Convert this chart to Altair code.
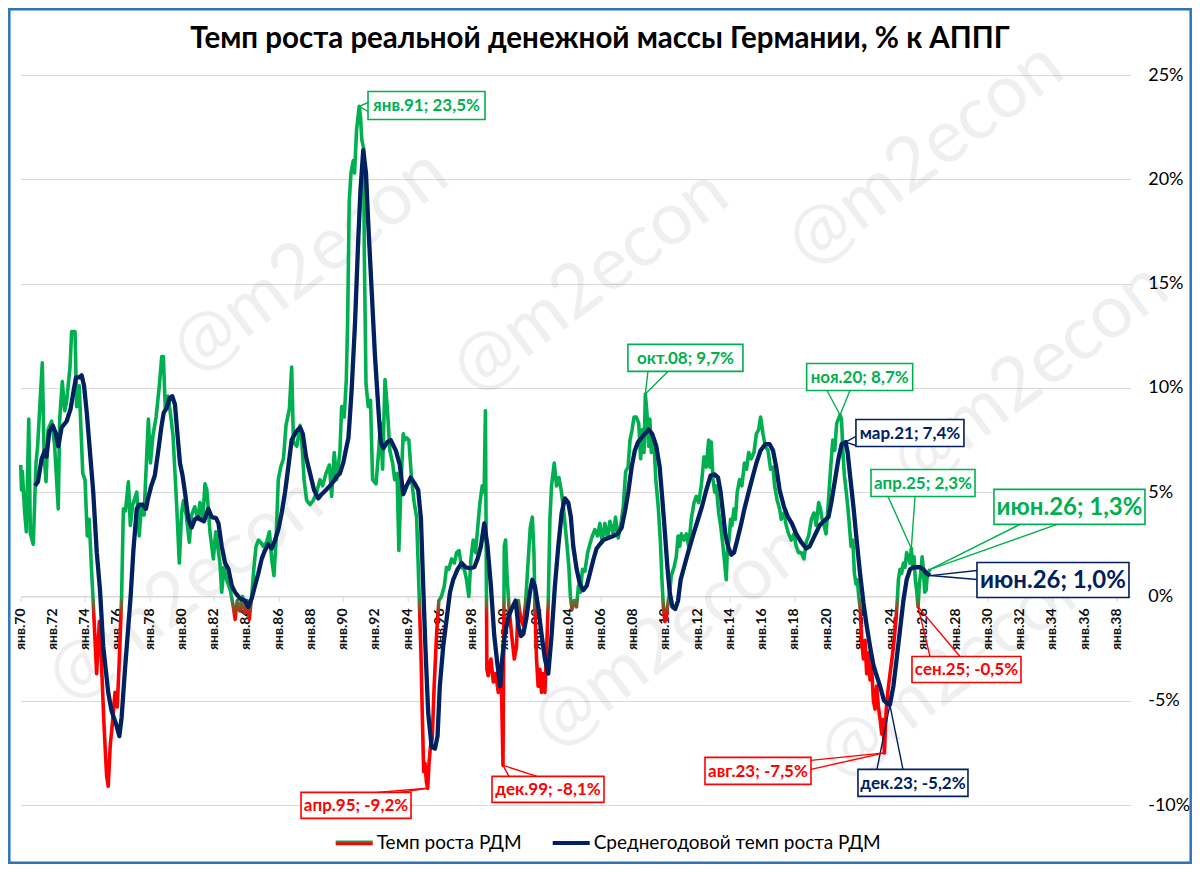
import altair as alt
import pandas as pd

# ---------------- data ----------------
# Monthly real money growth, % y/y (decimal year, value)
rdm_t = [1970.00, 1970.05, 1970.10, 1970.25, 1970.35, 1970.50, 1970.60, 1970.78, 1970.95, 1971.05,
         1971.20, 1971.34, 1971.45, 1971.57, 1971.70, 1971.92, 1972.10, 1972.33, 1972.42, 1972.58,
         1972.73, 1972.84, 1973.06, 1973.16, 1973.37, 1973.47, 1973.63, 1973.85, 1973.99, 1974.13,
         1974.25, 1974.40, 1974.50, 1974.71, 1974.88, 1975.00, 1975.17, 1975.33, 1975.43, 1975.55,
         1975.71, 1975.85, 1975.99, 1976.12, 1976.26, 1976.37, 1976.50, 1976.68, 1976.80, 1976.95,
         1977.20, 1977.35, 1977.50, 1977.65, 1977.92, 1978.05, 1978.20, 1978.40, 1978.60, 1978.75,
         1978.85, 1978.97, 1979.15, 1979.30, 1979.45, 1979.68, 1979.84, 1979.98, 1980.10, 1980.27,
         1980.46, 1980.60, 1980.80, 1981.00, 1981.12, 1981.30, 1981.43, 1981.55, 1981.74, 1981.95,
         1982.10, 1982.36, 1982.47, 1982.60, 1982.78, 1983.00, 1983.19, 1983.30, 1983.43, 1983.60,
         1983.76, 1983.90, 1984.05, 1984.18, 1984.33, 1984.47, 1984.60, 1984.75, 1984.89, 1985.05,
         1985.26, 1985.43, 1985.57, 1985.71, 1985.84, 1985.98, 1986.13, 1986.30, 1986.46, 1986.67,
         1986.81, 1986.92, 1987.13, 1987.33, 1987.44, 1987.58, 1987.74, 1987.95, 1988.15, 1988.36,
         1988.57, 1988.73, 1988.94, 1989.15, 1989.29, 1989.45, 1989.60, 1989.80, 1989.91, 1990.07,
         1990.20, 1990.28, 1990.38, 1990.49, 1990.63, 1990.71, 1990.84, 1991.00, 1991.08, 1991.16,
         1991.27, 1991.32, 1991.42, 1991.56, 1991.70, 1991.83, 1992.04, 1992.18, 1992.33, 1992.45,
         1992.60, 1992.74, 1992.90, 1993.07, 1993.20, 1993.35, 1993.46, 1993.59, 1993.73, 1993.83,
         1993.94, 1994.08, 1994.25, 1994.41, 1994.56, 1994.70, 1994.83, 1994.92, 1995.00, 1995.08,
         1995.17, 1995.25, 1995.33, 1995.42, 1995.53, 1995.65, 1995.80, 1995.94, 1996.10, 1996.28,
         1996.42, 1996.56, 1996.73, 1996.90, 1997.04, 1997.19, 1997.35, 1997.52, 1997.66, 1997.80,
         1997.93, 1998.07, 1998.22, 1998.34, 1998.49, 1998.63, 1998.75, 1998.83, 1998.92, 1999.00,
         1999.17, 1999.32, 1999.46, 1999.63, 1999.75, 1999.83, 1999.92, 2000.00, 2000.08, 2000.17,
         2000.29, 2000.45, 2000.62, 2000.76, 2000.87, 2001.03, 2001.18, 2001.32, 2001.49, 2001.61,
         2001.74, 2001.84, 2001.90, 2002.00, 2002.10, 2002.21, 2002.31, 2002.42, 2002.52, 2002.62,
         2002.73, 2002.83, 2002.93, 2003.10, 2003.24, 2003.39, 2003.55, 2003.70, 2003.85, 2004.00,
         2004.10, 2004.20, 2004.35, 2004.48, 2004.60, 2004.72, 2004.85, 2005.00, 2005.17, 2005.31,
         2005.46, 2005.62, 2005.79, 2005.93, 2006.08, 2006.24, 2006.41, 2006.55, 2006.76, 2006.90,
         2007.07, 2007.24, 2007.38, 2007.53, 2007.68, 2007.80, 2007.93, 2008.05, 2008.19, 2008.34,
         2008.46, 2008.57, 2008.67, 2008.75, 2008.85, 2008.95, 2009.03, 2009.12, 2009.28, 2009.40,
         2009.55, 2009.68, 2009.78, 2009.87, 2009.96, 2010.05, 2010.12, 2010.26, 2010.36, 2010.53,
         2010.67, 2010.78, 2010.88, 2010.98, 2011.15, 2011.29, 2011.44, 2011.60, 2011.77, 2011.91,
         2012.06, 2012.22, 2012.39, 2012.53, 2012.68, 2012.76, 2012.84, 2012.95, 2013.05, 2013.15,
         2013.30, 2013.42, 2013.57, 2013.67, 2013.77, 2013.83, 2013.94, 2014.04, 2014.12, 2014.25,
         2014.33, 2014.45, 2014.60, 2014.74, 2014.90, 2015.03, 2015.16, 2015.32, 2015.49, 2015.64,
         2015.78, 2015.90, 2016.05, 2016.19, 2016.36, 2016.52, 2016.67, 2016.77, 2016.93, 2017.08,
         2017.18, 2017.35, 2017.49, 2017.64, 2017.80, 2017.97, 2018.11, 2018.26, 2018.42, 2018.59,
         2018.73, 2018.88, 2019.05, 2019.21, 2019.35, 2019.50, 2019.62, 2019.69, 2019.84, 2019.96,
         2020.11, 2020.25, 2020.38, 2020.50, 2020.62, 2020.83, 2020.92, 2021.00, 2021.10, 2021.20,
         2021.31, 2021.41, 2021.51, 2021.62, 2021.72, 2021.82, 2021.90, 2021.99, 2022.07, 2022.17,
         2022.28, 2022.38, 2022.48, 2022.59, 2022.69, 2022.79, 2022.90, 2023.00, 2023.10, 2023.21,
         2023.30, 2023.42, 2023.50, 2023.58, 2023.68, 2023.79, 2023.93, 2024.05, 2024.18, 2024.30,
         2024.38, 2024.45, 2024.55, 2024.65, 2024.76, 2024.86, 2024.96, 2025.08, 2025.17, 2025.25,
         2025.33, 2025.42, 2025.50, 2025.58, 2025.67, 2025.75, 2025.83, 2025.92, 2026.00, 2026.08,
         2026.17, 2026.25, 2026.33, 2026.42]
rdm_v = [6.3, 5.1, 6.0, 4.0, 3.1, 8.5, 3.0, 2.5, 6.4, 7.2,
         9.3, 11.2, 6.8, 5.5, 8.0, 8.4, 7.3, 4.2, 8.5, 10.3,
         8.9, 9.3, 11.0, 12.7, 12.7, 9.1, 10.1, 5.9, 5.6, 2.9,
         3.7, 1.2, -0.3, -3.7, -1.2, -3.0, -6.2, -8.6, -9.1, -7.2,
         -5.9, -4.6, -5.3, -3.0, 0.0, 4.2, 4.1, 5.5, 3.4, 4.4,
         5.0, 2.9, 4.4, 3.9, 8.5, 6.4, 7.7, 8.6, 10.1, 11.5,
         11.5, 9.0, 9.6, 8.7, 7.7, 4.3, 1.6, 4.0, 4.6, 3.9,
         2.6, 3.9, 4.3, 3.7, 4.5, 3.7, 5.4, 5.1, 3.1, 1.8,
         3.1, 1.6, 0.2, 1.4, 0.8, 0.3, -0.5, -1.1, -0.2, -0.7,
         0.0, -0.8, -0.2, -1.1, 0.0, 1.4, 2.4, 2.7, 2.6, 2.4,
         2.6, 3.1, 1.8, 1.0, 2.7, 5.6, 6.2, 6.6, 8.2, 9.0,
         11.0, 7.4, 7.2, 8.2, 7.4, 5.6, 4.6, 4.4, 4.6, 5.0,
         5.6, 5.3, 5.9, 6.3, 4.8, 6.9, 5.6, 6.9, 9.1, 8.6,
         10.4, 13.1, 18.9, 20.3, 20.9, 20.3, 22.4, 23.5, 23.0, 21.9,
         21.5, 16.3, 10.2, 9.1, 9.4, 5.6, 5.4, 6.7, 8.3, 6.1,
         10.4, 9.1, 7.0, 6.4, 5.6, 5.9, 2.2, 5.3, 7.8, 7.5,
         7.6, 7.5, 5.6, 4.5, 3.8, 0.5, -2.7, -5.9, -8.4, -8.0,
         -8.9, -9.2, -8.0, -7.2, -6.8, -4.3, -1.8, -0.2, 0.0, 0.5,
         1.4, 1.3, 1.8, 1.6, 2.1, 2.2, 1.4, 1.3, 0.8, 0.0,
         1.8, 2.7, 2.1, 3.2, 4.5, 5.3, 5.0, 8.9, -3.5, -3.8,
         -3.0, -4.1, -3.7, -4.6, -3.8, -4.6, -8.1, 2.4, 2.7, 1.0,
         -0.5, -1.8, -3.0, -2.4, -0.2, -1.1, -1.4, -0.3, 1.8, 3.3,
         3.8, 2.1, -0.5, -3.0, -4.3, -3.5, -4.6, -3.7, -4.6, -2.7,
         -0.2, 3.7, 5.3, 6.4, 5.3, 5.7, 5.0, 4.0, 2.8, 1.5,
         0.0, -0.6, -0.2, -0.5, 0.5, 0.2, 1.3, 1.2, 2.1, 2.5,
         2.9, 3.2, 2.9, 3.5, 2.6, 3.5, 2.8, 3.6, 3.0, 3.8,
         2.8, 3.5, 4.3, 6.0, 6.2, 7.5, 8.0, 8.6, 8.6, 8.3,
         6.6, 8.0, 6.9, 9.7, 8.8, 7.2, 8.5, 6.9, 7.5, 5.6,
         4.3, 2.7, 0.8, -0.5, -1.2, -1.1, -0.5, 0.2, 1.0, 1.4,
         1.9, 2.9, 2.4, 3.0, 2.7, 3.0, 2.4, 3.7, 4.5, 4.8,
         4.5, 5.3, 6.7, 6.2, 7.5, 6.2, 7.4, 5.6, 5.0, 5.3,
         4.0, 3.4, 2.4, 1.6, 0.8, 2.1, 2.7, 3.7, 3.4, 4.2,
         3.7, 5.0, 5.6, 5.3, 6.4, 6.1, 6.9, 6.6, 6.9, 7.8,
         8.0, 8.6, 7.8, 7.2, 7.0, 6.1, 6.2, 5.3, 4.6, 4.2,
         3.7, 4.0, 3.4, 3.0, 2.7, 3.0, 2.4, 2.1, 2.1, 1.8,
         2.6, 2.9, 3.7, 4.0, 3.4, 4.5, 4.2, 3.8, 3.4, 3.0,
         4.6, 6.2, 7.5, 7.0, 8.3, 8.7, 8.5, 7.0, 5.8, 5.1,
         4.3, 3.4, 2.4, 2.7, 1.1, 0.6, 0.8, 0.0, -0.5, -2.1,
         -3.0, -2.1, -3.7, -2.7, -4.0, -3.4, -5.0, -5.4, -4.3, -5.3,
         -5.8, -6.6, -5.9, -7.5, -5.6, -4.6, -3.7, -3.0, -2.1, -1.1,
         -0.2, 0.8, 1.3, 1.1, 1.6, 1.4, 2.1, 1.8, 1.6, 2.3,
         1.4, 1.9, 0.8, 0.3, -0.5, 0.6, 1.1, 1.9, 1.3, 0.2,
         0.3, 1.1, 1.2, 1.3]

# 12-month average of real money growth, %
avg_t = [1970.89, 1971.07, 1971.30, 1971.50, 1971.60, 1971.77, 1971.98, 1972.19, 1972.33, 1972.54,
         1972.85, 1973.10, 1973.27, 1973.43, 1973.64, 1973.78, 1973.93, 1974.10, 1974.30, 1974.50,
         1974.72, 1974.92, 1975.12, 1975.43, 1975.64, 1975.91, 1976.12, 1976.26, 1976.47, 1976.68,
         1976.82, 1976.99, 1977.20, 1977.35, 1977.56, 1977.77, 1977.90, 1978.10, 1978.32, 1978.52,
         1978.72, 1978.87, 1979.03, 1979.24, 1979.40, 1979.57, 1979.71, 1979.88, 1980.04, 1980.19,
         1980.40, 1980.60, 1980.81, 1981.00, 1981.12, 1981.37, 1981.64, 1981.85, 1982.12, 1982.27,
         1982.47, 1982.68, 1982.89, 1983.10, 1983.30, 1983.60, 1983.91, 1984.12, 1984.33, 1984.53,
         1984.74, 1984.95, 1985.15, 1985.36, 1985.57, 1985.78, 1985.98, 1986.19, 1986.40, 1986.60,
         1986.81, 1987.08, 1987.33, 1987.50, 1987.70, 1987.95, 1988.20, 1988.46, 1988.67, 1988.94,
         1989.18, 1989.39, 1989.60, 1989.80, 1990.01, 1990.22, 1990.33, 1990.43, 1990.53, 1990.74,
         1990.94, 1991.08, 1991.25, 1991.42, 1991.56, 1991.77, 1991.98, 1992.18, 1992.33, 1992.50,
         1992.74, 1992.95, 1993.27, 1993.52, 1993.73, 1993.94, 1994.20, 1994.45, 1994.66, 1994.83,
         1994.97, 1995.12, 1995.28, 1995.49, 1995.70, 1995.86, 1996.00, 1996.21, 1996.42, 1996.63,
         1996.83, 1997.10, 1997.35, 1997.60, 1997.87, 1998.14, 1998.34, 1998.55, 1998.76, 1998.96,
         1999.17, 1999.38, 1999.58, 1999.75, 1999.87, 2000.04, 2000.25, 2000.45, 2000.70, 2000.87,
         2001.03, 2001.18, 2001.38, 2001.59, 2001.74, 2001.90, 2002.10, 2002.31, 2002.52, 2002.73,
         2002.93, 2003.14, 2003.35, 2003.56, 2003.76, 2003.97, 2004.13, 2004.28, 2004.49, 2004.69,
         2004.90, 2005.11, 2005.31, 2005.52, 2005.73, 2005.93, 2006.14, 2006.45, 2006.76, 2007.03,
         2007.28, 2007.49, 2007.69, 2007.90, 2008.10, 2008.30, 2008.61, 2008.96, 2009.17, 2009.43,
         2009.64, 2009.79, 2009.95, 2010.12, 2010.26, 2010.43, 2010.61, 2010.78, 2010.94, 2011.15,
         2011.40, 2011.70, 2012.02, 2012.26, 2012.53, 2012.80, 2013.05, 2013.26, 2013.42, 2013.57,
         2013.71, 2013.88, 2014.08, 2014.25, 2014.45, 2014.70, 2014.90, 2015.16, 2015.43, 2015.64,
         2015.90, 2016.19, 2016.46, 2016.67, 2016.87, 2017.08, 2017.35, 2017.60, 2017.84, 2018.11,
         2018.42, 2018.73, 2018.94, 2019.25, 2019.56, 2019.80, 2020.11, 2020.31, 2020.52, 2020.73,
         2020.93, 2021.17, 2021.30, 2021.45, 2021.66, 2021.86, 2022.07, 2022.28, 2022.48, 2022.69,
         2022.90, 2023.10, 2023.31, 2023.56, 2023.79, 2023.92, 2024.14, 2024.34, 2024.55, 2024.76,
         2024.96, 2025.17, 2025.38, 2025.58, 2025.79, 2026.00, 2026.20, 2026.42]
avg_v = [5.3, 5.5, 6.6, 7.0, 6.7, 7.9, 8.2, 7.8, 7.2, 8.1,
         8.4, 9.0, 9.8, 10.5, 10.5, 10.6, 10.1, 8.8, 6.9, 5.0,
         2.1, 0.3, -2.4, -4.6, -5.5, -6.1, -6.7, -5.8, -3.5, -1.4,
         0.0, 2.2, 4.2, 4.4, 4.4, 4.2, 4.7, 5.3, 5.8, 6.9,
         8.1, 8.8, 9.0, 9.5, 9.6, 9.2, 7.9, 6.4, 5.8, 5.0,
         3.7, 3.3, 3.7, 3.8, 3.7, 3.6, 4.2, 3.8, 3.75, 3.5,
         2.4, 1.6, 1.3, 0.5, 0.2, -0.1, -0.2, -0.5, -0.1, 0.5,
         1.1, 1.8, 2.2, 2.5, 2.3, 2.7, 3.2, 4.0, 5.0, 6.2,
         7.5, 7.9, 8.1, 7.8, 6.7, 5.9, 5.1, 4.7, 4.9, 5.1,
         5.3, 5.5, 5.75, 5.9, 6.4, 7.2, 7.6, 8.7, 9.9, 13.1,
         17.1, 19.5, 21.4, 20.3, 17.9, 14.7, 11.5, 9.1, 7.4, 7.1,
         7.4, 7.5, 7.0, 6.3, 4.9, 5.3, 5.7, 5.4, 5.1, 3.7,
         0.5, -2.7, -5.6, -7.2, -7.3, -6.7, -4.3, -2.4, -1.1, 0.2,
         0.8, 1.3, 1.6, 1.4, 1.35, 1.4, 1.8, 2.4, 3.5, 2.4,
         0.5, -1.9, -3.3, -4.3, -3.0, -1.8, -1.0, -0.6, -0.2, -1.4,
         -1.9, -1.8, -1.0, 0.2, 0.8, 0.5, -0.5, -1.8, -3.0, -3.7,
         -1.9, 0.5, 2.4, 4.0, 4.7, 4.5, 3.8, 2.4, 1.3, 0.6,
         0.3, 0.5, 1.1, 1.75, 2.3, 2.5, 2.7, 2.8, 2.9, 3.0,
         3.3, 4.1, 5.0, 6.2, 7.0, 7.4, 7.7, 8.0, 7.8, 7.2,
         6.2, 4.8, 3.2, 1.4, 0.2, -0.5, -0.6, -0.2, 0.8, 1.4,
         2.1, 2.9, 3.7, 4.3, 5.1, 5.8, 5.85, 5.7, 5.0, 4.0,
         3.0, 2.4, 2.0, 2.1, 2.7, 3.5, 4.2, 5.0, 5.8, 6.4,
         7.0, 7.3, 7.3, 7.0, 6.2, 5.1, 4.3, 3.8, 3.5, 3.0,
         2.6, 2.3, 2.4, 2.9, 3.4, 3.6, 3.8, 4.6, 5.6, 6.6,
         7.3, 7.4, 6.9, 5.8, 4.3, 2.7, 1.1, -0.3, -1.4, -2.4,
         -3.3, -3.8, -4.3, -5.0, -5.15, -5.2, -4.3, -3.0, -1.6, -0.2,
         0.8, 1.3, 1.4, 1.4, 1.4, 1.3, 1.1, 1.0]

x_ticks = list(range(1970, 2039, 2))
x_tick_labels = ["янв." + str(y)[2:] for y in x_ticks]
y_ticks = [-10, -5, 0, 5, 10, 15, 20, 25]

ann_text = ["янв.91; 23,5%", "окт.08; 9,7%", "ноя.20; 8,7%", "мар.21; 7,4%", "апр.25; 2,3%",
            "июн.26; 1,3%", "июн.26; 1,0%", "сен.25; -0,5%", "дек.23; -5,2%", "авг.23; -7,5%",
            "апр.95; -9,2%", "дек.99; -8,1%"]
ann_t = [1991.00, 2008.75, 2020.83, 2021.17, 2025.25, 2026.42, 2026.42, 2025.67, 2023.92, 2023.58,
         1995.25, 1999.92]
ann_v = [23.5, 9.7, 8.7, 7.4, 2.3, 1.3, 1.0, -0.5, -5.2, -7.5, -9.2, -8.1]
ann_series = ["g", "g", "g", "n", "g", "g", "n", "r", "n", "r", "r", "r"]

legend_labels = ["Темп роста РДМ", "Среднегодовой темп роста РДМ"]
title_text = "Темп роста реальной денежной массы Германии, % к АППГ"

# ---------------- styling / layout ----------------
GREEN = "#00B050"
RED = "#FF0000"
NAVY = "#002060"
COL = {"g": GREEN, "r": RED, "n": NAVY}
FONT = "Lato"
W, H = 1110, 730

# callout layout in pixels relative to the pointed point:
# (box dx, box dy, box w, box h, font size, wedge base 1, wedge base 2)
ann_layout = [
    (67.3, -0.8, 117, 28, 17, (8.8, -3.8), (8.8, 5.2)),
    (40.1, -36.2, 115, 27, 17, (2.6, -22.7), (22.6, -22.7)),
    (19.6, -38.0, 106, 27, 17, (-13.1, -24.5), (9.9, -24.5)),
    (64.4, -9.1, 108, 27, 17, (10.4, -5.6), (10.4, 3.4)),
    (11.7, -65.5, 104, 27, 17, (-23.3, -52.0), (3.7, -52.0)),
    (139.3, -62.4, 151, 35, 24, (89.8, -44.9), (126.8, -44.9)),
    (122.8, 4.4, 152, 35, 24, (46.8, -5.1), (46.8, 3.9)),
    (48.4, 62.6, 109, 26, 17, (11.9, 49.6), (41.9, 49.6)),
    (23.1, 78.0, 110, 27, 17, (-12.9, 64.5), (13.1, 64.5)),
    (-126.4, 18.0, 106, 27, 17, (-73.4, 7.5), (-73.4, 16.5)),
    (-71.7, 17.1, 110, 26, 17, (-50.7, 4.1), (-27.7, 4.1)),
    (45.0, 24.0, 112, 26, 17, (6.0, 11.0), (34.0, 11.0)),
]

watermarks = [(290, 187), (570, 207), (905, 80), (1010, 300), (165, 515), (650, 562), (937, 593)]

one = pd.DataFrame({"a": [0]})

xscale = alt.Scale(domain=[1970, 2038.86], nice=False, zero=False)
yscale = alt.Scale(domain=[-10, 25], nice=False, zero=False)

xaxis = alt.Axis(values=x_ticks, labels=False, offset=-(H * 10 / 35), grid=False,
                 domainColor="#d9d9d9", domainWidth=1.2, tickColor="#d9d9d9", tickSize=5,
                 title=None)
yaxis = alt.Axis(orient="right", values=y_ticks, labelExpr="datum.value + '%'", grid=True,
                 gridColor="#d9d9d9", gridWidth=1.2, domain=False, ticks=False,
                 labelPadding=17, labelFont=FONT, labelFontSize=18, labelColor="#000000",
                 title=None)

layers = []

# watermark
for (wx, wy) in watermarks:
    layers.append(alt.Chart(one).mark_text(text="@m2econ", angle=323, fontSize=74, font=FONT,
                                           color="#000000", opacity=0.06)
                  .encode(x=alt.value(wx), y=alt.value(wy)))

rdm_df = pd.DataFrame({"t": rdm_t, "v": rdm_v})
avg_df = pd.DataFrame({"t": avg_t, "v": avg_v})

# x tick labels ("янв.YY"), hanging below the zero line (drawn under the lines)
tick_df = pd.DataFrame({"t": x_ticks, "lab": x_tick_labels, "v": [0] * len(x_ticks)})
layers.append(alt.Chart(tick_df).mark_text(angle=270, align="right", baseline="middle", dx=-12,
                                           font=FONT, fontSize=14, fontWeight="bold",
                                           color="#111111")
              .encode(x=alt.X("t:Q", scale=xscale, axis=xaxis),
                      y=alt.Y("v:Q", scale=yscale, axis=yaxis), text="lab:N"))

vmax, vmin = max(rdm_v), min(rdm_v)
z = vmax / (vmax - vmin)
grad = alt.Gradient(gradient="linear", x1=0, x2=0, y1=0, y2=1,
                    stops=[alt.GradientStop(color=GREEN, offset=0),
                           alt.GradientStop(color=GREEN, offset=z - 0.002),
                           alt.GradientStop(color=RED, offset=z + 0.03),
                           alt.GradientStop(color=RED, offset=1)])

green = alt.Chart(rdm_df).mark_line(color=grad, strokeWidth=3.6, strokeJoin="round").encode(
    x="t:Q", y="v:Q")
layers.append(green)

navy = alt.Chart(avg_df).mark_line(color=NAVY, strokeWidth=4.3, strokeJoin="round").encode(
    x="t:Q", y="v:Q")
layers.append(navy)

# callouts
for i, lab in enumerate(ann_text):
    dx, dy, bw, bh, fs, b1, b2 = ann_layout[i]
    c = COL[ann_series[i]]
    d = pd.DataFrame({"t": [ann_t[i]], "v": [ann_v[i]], "label": [lab]})
    base = alt.Chart(d).encode(x="t:Q", y="v:Q")
    for (bx, by) in (b1, b2):
        layers.append(base.mark_rule(color=c, strokeWidth=1.4, x2Offset=bx, y2Offset=by)
                      .encode(x2=alt.X2("t"), y2=alt.Y2("v")))
    layers.append(base.mark_rect(fill="white", stroke=c, strokeWidth=1.6,
                                 xOffset=dx - bw / 2, x2Offset=dx + bw / 2,
                                 yOffset=dy - bh / 2, y2Offset=dy + bh / 2)
                  .encode(x2=alt.X2("t"), y2=alt.Y2("v")))
    layers.append(base.mark_text(dx=dx, dy=dy + 1, fontSize=fs, fontWeight="bold", font=FONT,
                                 color=c, align="center", baseline="middle")
                  .encode(text="label:N"))

# legend
layers.append(alt.Chart(one).mark_rule(color=RED, strokeWidth=3.2)
              .encode(x=alt.value(315), x2=alt.value(352), y=alt.value(768.6), y2=alt.value(768.6)))
layers.append(alt.Chart(one).mark_rule(color=GREEN, strokeWidth=1.6)
              .encode(x=alt.value(315), x2=alt.value(352), y=alt.value(766.4), y2=alt.value(766.4)))
layers.append(alt.Chart(one).mark_text(text=legend_labels[0], font=FONT, fontSize=19,
                                       align="left", baseline="middle", color="#000000")
              .encode(x=alt.value(356), y=alt.value(768)))
layers.append(alt.Chart(one).mark_rule(color=NAVY, strokeWidth=4.2)
              .encode(x=alt.value(532), x2=alt.value(569), y=alt.value(768), y2=alt.value(768)))
layers.append(alt.Chart(one).mark_text(text=legend_labels[1], font=FONT,
                                       fontSize=19, align="left", baseline="middle",
                                       color="#000000")
              .encode(x=alt.value(573), y=alt.value(768)))

# title
layers.append(alt.Chart(one).mark_text(text=title_text,
                                       font=FONT, fontSize=29.5, fontWeight="bold",
                                       align="center", baseline="alphabetic", color="#000000")
              .encode(x=alt.value(579.3), y=alt.value(-27)))

# frame
layers.append(alt.Chart(one).mark_rect(fill="white", fillOpacity=0, stroke="#2E75B6",
                                       strokeWidth=2.5)
              .encode(x=alt.value(-11.4), x2=alt.value(1170.0),
                      y=alt.value(-65.7), y2=alt.value(787.7)))

chart = alt.layer(*layers).properties(
    width=W, height=H,
    autosize=alt.AutoSizeParams(type="none"),
    padding={"left": 12.7, "top": 67, "right": 61.3, "bottom": 59},
    background="white",
).configure_view(stroke=None)

chart.save("out.html", embed_options={"renderer": "svg", "actions": False})
